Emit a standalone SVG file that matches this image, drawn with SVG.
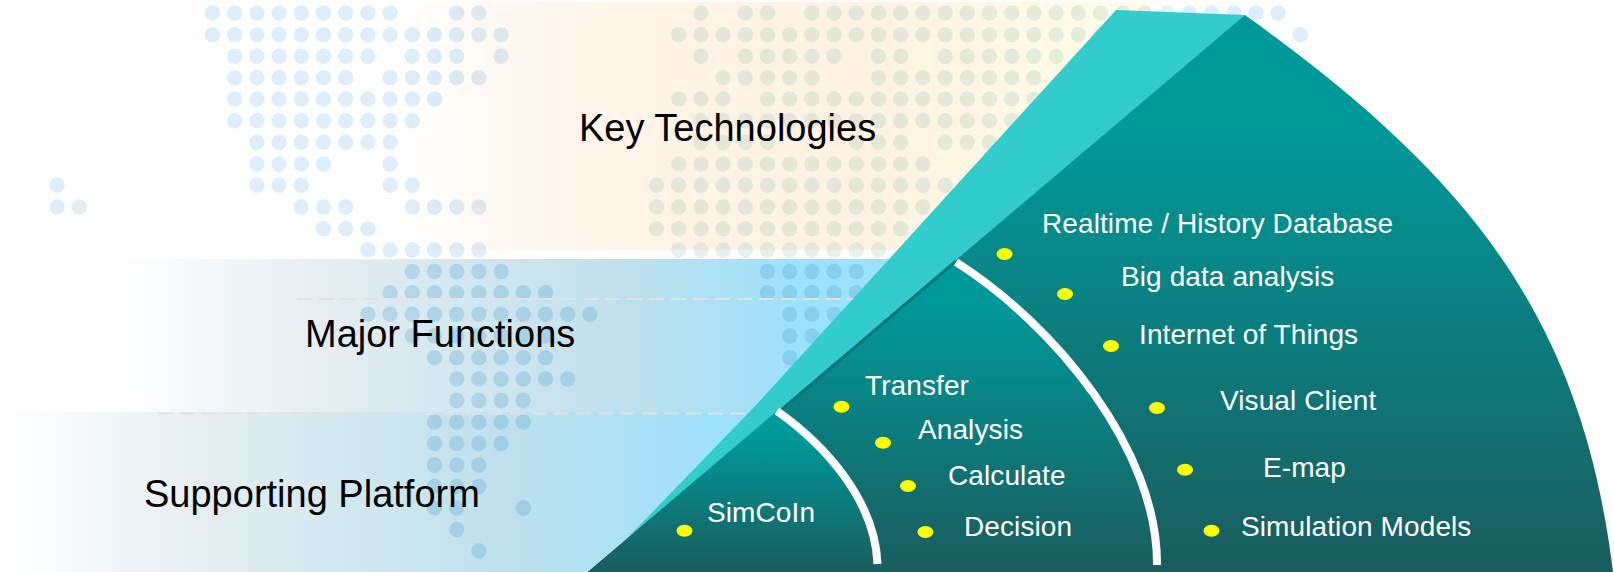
<svg xmlns="http://www.w3.org/2000/svg" width="1614" height="572" viewBox="0 0 1614 572">
<style>
.dl{fill:none;stroke-linecap:round;stroke-width:15.4;stroke-dasharray:0 22.2}
.dots1{stroke:#4aa8e0;stroke-opacity:.2}
.dots3{stroke:#7cb6b1;stroke-opacity:.2}
.dots2{stroke:#4a9fd0;stroke-opacity:.27}
.dash{stroke:#e2e2e2;stroke-width:2;stroke-dasharray:15 7;fill:none}
.head{font:38px "Liberation Sans",Arial,sans-serif;fill:#000}
.item{font:28px "Liberation Sans",Arial,sans-serif;fill:#fff;letter-spacing:.1px}
.bul{fill:#ff0}
.arc{fill:none;stroke:#fff;stroke-width:8}
</style>
<defs>
<linearGradient id="gKey" gradientUnits="userSpaceOnUse" x1="405" y1="0" x2="1150" y2="0">
<stop offset="0" stop-color="#fff"/><stop offset=".12" stop-color="#fff8f1"/><stop offset=".35" stop-color="#fef3e5"/><stop offset=".65" stop-color="#fef3e2"/><stop offset="1" stop-color="#fffee8"/>
</linearGradient>
<linearGradient id="gFun" gradientUnits="userSpaceOnUse" x1="115" y1="0" x2="790" y2="0">
<stop offset="0" stop-color="#fff"/><stop offset=".3" stop-color="#e5eef2"/><stop offset=".75" stop-color="#bfe0ec"/><stop offset="1" stop-color="#9ee1fb"/>
</linearGradient>
<linearGradient id="gSup" gradientUnits="userSpaceOnUse" x1="5" y1="0" x2="720" y2="0">
<stop offset="0" stop-color="#fff"/><stop offset=".3" stop-color="#e2edf1"/><stop offset=".72" stop-color="#bce0ed"/><stop offset="1" stop-color="#9ee1fb"/>
</linearGradient>
<linearGradient id="gBig" gradientUnits="userSpaceOnUse" x1="0" y1="15" x2="0" y2="572">
<stop offset="0" stop-color="#009999"/><stop offset=".2" stop-color="#009999"/><stop offset="1" stop-color="#1a5c5e"/>
</linearGradient>
<linearGradient id="gMid" gradientUnits="userSpaceOnUse" x1="0" y1="262" x2="0" y2="572">
<stop offset="0" stop-color="#009999"/><stop offset=".12" stop-color="#009999"/><stop offset="1" stop-color="#1a5c5e"/>
</linearGradient>
<linearGradient id="gIn" gradientUnits="userSpaceOnUse" x1="0" y1="411" x2="0" y2="572">
<stop offset="0" stop-color="#009999"/><stop offset=".15" stop-color="#009999"/><stop offset="1" stop-color="#1a5c5e"/>
</linearGradient>
</defs>

<g id="bands">
<rect x="405" y="2" width="745" height="248" fill="url(#gKey)"/>
<rect x="115" y="259" width="780" height="153" fill="url(#gFun)"/>
<rect x="0" y="412" width="760" height="160" fill="url(#gSup)"/>
</g>

<g id="map-dots">
<path class="dl dots1" d="M212.5 13h177.7M456.7 13h22.7M1189.3 13h88.9
M212.5 34.7h288.7M1300.3 34.7h.5
M234.7 56.3h133.3M412.3 56.3h44.9M501.1 56.3h.5
M234.7 77.7h111.5M390.1 77.7h89.3
M234.7 99h199.9
M234.7 120.7h177.7
M256.9 142.3h133.7
M256.9 164h66.9M390.1 164h.5
M57.1 185.3h.5M256.9 185.3h44.9M390.1 185.3h22.7
M57.1 207h22.7M301.3 207h44.9M412.3 207h66.9
M323.5 228.7h44.9
M367.9 250h111.5"/>
<path class="dl dots3" d="M700.9 13h.5M745.3 13h22.7M811.9 13h377
M678.7 34.7h488.9
M700.9 56.3h.5M745.3 56.3h89.3M878.5 56.3h22.7M945.1 56.3h111.5
M723.1 77.7h89.3M878.5 77.7h155.9
M678.7 99h44.9M767.5 99h266.9
M700.9 120.7h311.3
M700.9 142.3h66.9M856.3 142.3h44.9M945.1 142.3h44.9
M678.7 164h244.7
M656.5 185.3h289.1
M656.5 207h266.9
M656.5 228.7h244.7
M678.7 250h200.3"/>
<path class="dl dots2" d="M412.3 271.5h89.3M767.5 271.5h89.3
M390.1 292.7h155.9M767.5 292.7h89.3
M367.9 314.3h222.5M789.7 314.3h44.9
M412.3 336h133.7M789.7 336h22.7
M434.5 357.7h111.5M789.7 357.7h.5
M456.7 379h111.5
M456.7 400.5h66.9
M434.5 422h89.3
M434.5 443.5h66.9
M434.5 465h44.9
M434.5 486.5h44.9
M434.5 508h22.7M523.3 508h.5
M456.7 529.5h.5
M478.9 551h.5"/>
</g>

<g id="dash-lines">
<path class="dash" d="M297 299H883"/>
<path class="dash" d="M158 413.5H746"/>
</g>

<g id="layer-wedge">
<path id="teal-strip" d="M1116 10L1246 15L600 572L610 556L758 403Z" fill="#33cccc"/>
<path id="outer-wedge" d="M1245 15C1465 173 1581 312 1613 572H588Z" fill="url(#gBig)"/>
<path id="middle-wedge" d="M954 262C1055 325 1158 450 1157 572H588Z" fill="url(#gMid)"/>
<path id="inner-wedge" d="M777 411C825 445 875 500 877.5 572H588Z" fill="url(#gIn)"/>
<path d="M955.500 261.500L779 412" stroke="#0e7676" stroke-width="3" fill="none"/>
<path class="arc" d="M956 262C1055 325 1158 450 1157 565"/>
<path class="arc" d="M777 411C825 445 875 500 877.5 564"/>
</g>

<g id="label-key"><text class="head" x="579" y="141">Key Technologies</text></g>
<g id="label-functions"><text class="head" x="305" y="347">Major Functions</text></g>
<g id="label-platform"><text class="head" x="144" y="507">Supporting Platform</text></g>

<g id="item-simcoin"><ellipse class="bul" cx="684.5" cy="530.7" rx="8" ry="6"/><text class="item" x="707" y="522">SimCoIn</text></g>
<g id="item-transfer"><ellipse class="bul" cx="841.5" cy="406.7" rx="8" ry="6"/><text class="item" x="865" y="395">Transfer</text></g>
<g id="item-analysis"><ellipse class="bul" cx="883" cy="442.7" rx="8" ry="6"/><text class="item" x="918" y="439">Analysis</text></g>
<g id="item-calculate"><ellipse class="bul" cx="908" cy="486" rx="8" ry="6"/><text class="item" x="948" y="485">Calculate</text></g>
<g id="item-decision"><ellipse class="bul" cx="925.4" cy="532" rx="8" ry="6"/><text class="item" x="964" y="536">Decision</text></g>
<g id="item-database"><ellipse class="bul" cx="1004.6" cy="254" rx="8" ry="6"/><text class="item" x="1042" y="233">Realtime / History Database</text></g>
<g id="item-bigdata"><ellipse class="bul" cx="1065" cy="294" rx="8" ry="6"/><text class="item" x="1121" y="286">Big data analysis</text></g>
<g id="item-iot"><ellipse class="bul" cx="1111" cy="346" rx="8" ry="6"/><text class="item" x="1139" y="344">Internet of Things</text></g>
<g id="item-visual"><ellipse class="bul" cx="1157" cy="408" rx="8" ry="6"/><text class="item" x="1220" y="410">Visual Client</text></g>
<g id="item-emap"><ellipse class="bul" cx="1185" cy="469.7" rx="8" ry="6"/><text class="item" x="1263" y="477">E-map</text></g>
<g id="item-simulation"><ellipse class="bul" cx="1211.5" cy="530.7" rx="8" ry="6"/><text class="item" x="1241" y="536">Simulation Models</text></g>
</svg>
